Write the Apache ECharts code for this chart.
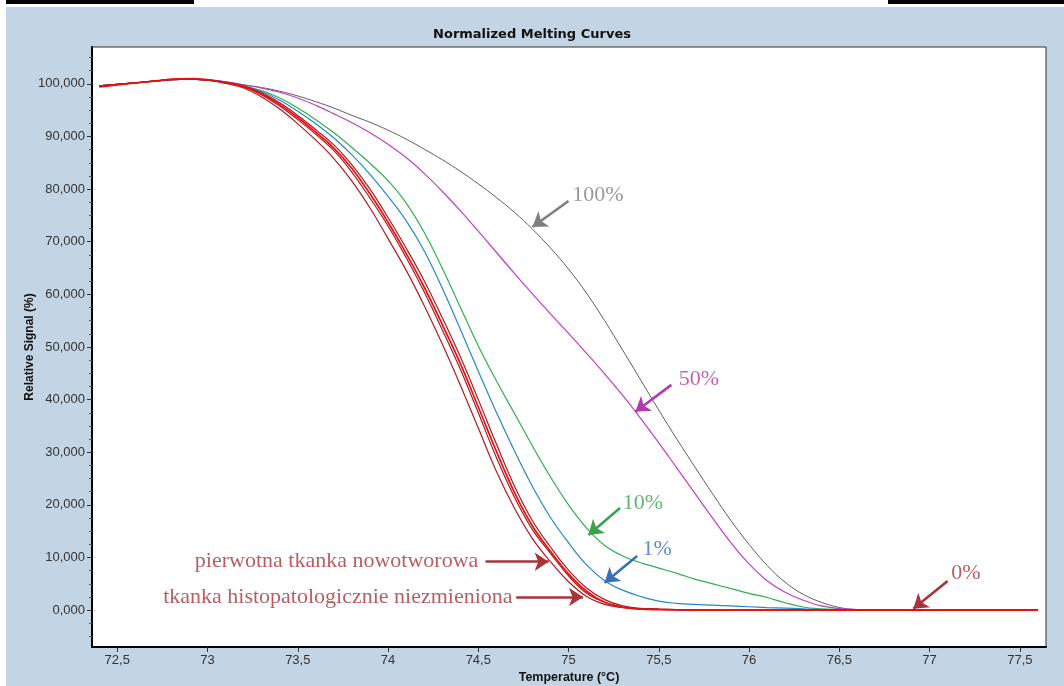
<!DOCTYPE html>
<html>
<head>
<meta charset="utf-8">
<script src="https://cdn.jsdelivr.net/npm/echarts@6/dist/echarts.min.js"></script>
<style>
  html, body { margin: 0; padding: 0; background: #fff; }
  #chart { width: 1064px; height: 686px; }
</style>
</head>
<body>
<div id="chart"></div>
<script>
// Temperature grid (°C)
const temperatures = [
  72.4, 72.5, 72.6, 72.7, 72.8, 72.9, 73.0, 73.1, 73.2, 73.3,
  73.4, 73.5, 73.6, 73.7, 73.8, 73.9, 74.0, 74.1, 74.2, 74.3,
  74.4, 74.5, 74.6, 74.7, 74.8, 74.9, 75.0, 75.1, 75.2, 75.3,
  75.4, 75.5, 75.6, 75.7, 75.8, 75.9, 76.0, 76.1, 76.2, 76.3,
  76.4, 76.5, 76.6, 76.7, 76.8, 76.9, 77.0, 77.1, 77.2, 77.3,
  77.4, 77.5, 77.6
];

// Normalized signal (%) for each sample
const signal100 = [
  99.6, 99.9, 100.2, 100.5, 100.8, 100.9, 100.7, 100.4, 99.8, 99.3,
  98.6, 97.7, 96.6, 95.4, 94.0, 92.7, 91.2, 89.5, 87.6, 85.6,
  83.4, 81.0, 78.4, 75.6, 72.4, 68.8, 64.8, 60.2, 55.0, 49.4,
  43.7, 38.0, 32.5, 27.2, 22.0, 17.0, 12.5, 8.5, 5.3, 3.0,
  1.5, 0.5, 0.1, 0, 0, 0, 0, 0, 0, 0,
  0, 0, 0
];
const signal50 = [
  99.6, 99.9, 100.2, 100.5, 100.8, 100.9, 100.7, 100.4, 99.8, 99.2,
  98.4, 97.3, 95.9, 94.3, 92.6, 90.7, 88.5, 86.0, 83.0, 79.6,
  75.9, 72.0, 68.0, 64.0, 60.1, 56.3, 52.6, 48.8, 44.9, 40.8,
  36.4, 31.8, 27.0, 22.2, 17.4, 12.8, 8.8, 5.6, 3.4, 1.9,
  0.8, 0.3, 0.1, 0, 0, 0, 0, 0, 0, 0,
  0, 0, 0
];
const signal10 = [
  99.6, 99.9, 100.2, 100.5, 100.8, 100.9, 100.7, 100.3, 99.6, 98.7,
  97.3, 95.4, 93.2, 90.7, 87.9, 84.9, 81.6, 77.4, 71.8, 65.0,
  57.6, 50.2, 43.6, 37.4, 31.2, 25.3, 20.0, 15.6, 12.3, 10.3,
  9.0, 8.0, 7.0, 5.9, 5.0, 4.1, 3.2, 2.4, 1.4, 0.6,
  0.25, 0.1, 0, 0, 0, 0, 0, 0, 0, 0,
  0, 0, 0
];
const signal1 = [
  99.6, 99.9, 100.2, 100.5, 100.8, 100.9, 100.7, 100.3, 99.5, 98.5,
  96.9, 94.8, 92.4, 89.7, 86.5, 82.8, 78.6, 74.0, 68.3, 61.2,
  53.4, 45.4, 37.6, 30.3, 23.5, 17.6, 12.8, 8.6, 5.6, 3.8,
  2.6, 1.7, 1.3, 1.1, 0.95, 0.8, 0.65, 0.5, 0.4, 0.25,
  0.1, 0.05, 0, 0, 0, 0, 0, 0, 0, 0,
  0, 0, 0
];
const signal0 = [
  99.6, 99.9, 100.2, 100.5, 100.8, 100.9, 100.7, 100.1, 99.2, 97.5,
  95.2, 92.4, 89.3, 85.8, 81.5, 76.4, 70.6, 64.6, 57.9, 50.6,
  42.8, 34.6, 26.4, 19.4, 13.6, 9.2, 5.4, 2.6, 1.1, 0.5,
  0.25, 0.15, 0.1, 0, 0, 0, 0, 0, 0, 0,
  0, 0, 0, 0, 0, 0, 0, 0, 0, 0,
  0, 0, 0
];
const signalTumor = [
  99.6, 99.9, 100.2, 100.5, 100.8, 100.9, 100.7, 100.2, 99.4, 97.9,
  95.8, 93.2, 90.4, 87.3, 83.2, 78.3, 73.0, 67.0, 60.5, 53.3,
  45.8, 37.5, 29.0, 21.5, 15.3, 10.8, 6.5, 3.2, 1.5, 0.6,
  0.3, 0.2, 0.1, 0, 0, 0, 0, 0, 0, 0,
  0, 0, 0, 0, 0, 0, 0, 0, 0, 0,
  0, 0, 0
];
const signalNormal = [
  99.4, 99.8, 100.2, 100.5, 100.9, 101.0, 100.8, 100.2, 99.5, 98.1,
  96.1, 93.6, 90.8, 87.8, 83.9, 79.1, 73.7, 67.8, 61.4, 54.3,
  46.9, 38.6, 30.2, 22.4, 16.0, 11.2, 6.9, 3.6, 1.5, 0.5,
  0.2, 0.1, 0.05, 0, 0, 0, 0, 0, 0, 0,
  0, 0, 0, 0, 0, 0, 0, 0, 0, 0,
  0, 0, 0
];
const signalTumor2 = [
  99.6, 99.9, 100.2, 100.5, 100.8, 100.9, 100.7, 100.3, 99.6, 98.3,
  96.4, 94.0, 91.3, 88.4, 84.6, 80.0, 74.6, 68.8, 62.6, 55.6,
  48.2, 40.0, 31.6, 23.6, 17.0, 12.0, 7.6, 4.2, 2.0, 0.8,
  0.35, 0.2, 0.1, 0, 0, 0, 0, 0, 0, 0,
  0, 0, 0, 0, 0, 0, 0, 0, 0, 0,
  0, 0, 0
];

// Axis ticks
const xTicks = [72.5, 73, 73.5, 74, 74.5, 75, 75.5, 76, 76.5, 77, 77.5];
const yTicks = [0, 10, 20, 30, 40, 50, 60, 70, 80, 90, 100];
const yMinorTicks = [-5, -2.5, 2.5, 5, 7.5, 12.5, 15, 17.5, 22.5, 25, 27.5,
  32.5, 35, 37.5, 42.5, 45, 47.5, 52.5, 55, 57.5, 62.5, 65, 67.5,
  72.5, 75, 77.5, 82.5, 85, 87.5, 92.5, 95, 97.5, 102.5, 105];

// Annotation texts with arrows (data coordinates)
const annotations = [
  { text: '100%', color: '#7f7f7f', at: [75.02, 78.9], side: 'right', from: [75.0, 77.75], to: [74.80, 72.8] },
  { text: '50%', color: '#b23bb0', at: [75.61, 43.9], side: 'right', from: [75.57, 42.8], to: [75.37, 37.7] },
  { text: '10%', color: '#3da24f', at: [75.30, 20.4], side: 'right', from: [75.285, 19.4], to: [75.11, 14.3] },
  { text: '1%', color: '#3b6fb6', at: [75.41, 11.6], side: 'right', from: [75.38, 10.3], to: [75.20, 5.2] },
  { text: '0%', color: '#a8343a', at: [77.12, 7.1], side: 'right', from: [77.10, 5.55], to: [76.91, 0.25] },
  { text: 'pierwotna tkanka nowotworowa', color: '#a8343a', at: [74.50, 9.35], side: 'left', from: [74.54, 9.2], to: [74.89, 9.2] },
  { text: 'tkanka histopatologicznie niezmieniona', color: '#a8343a', at: [74.69, 2.5], side: 'left', from: [74.71, 2.5], to: [75.08, 2.5] }
];

const pairs = arr => arr.map((v, i) => [temperatures[i], v]);
const sans = '"Liberation Sans", Arial, sans-serif';
const serif = '"Liberation Serif", "Times New Roman", serif';

function curve(name, values, color, width) {
  return {
    name, type: 'line', data: pairs(values),
    showSymbol: false, smooth: 0.4,
    lineStyle: { color, width }, itemStyle: { color },
    emphasis: { disabled: true }, silent: true, z: 3
  };
}

const chart = echarts.init(document.getElementById('chart'), null, { renderer: 'canvas' });
chart.setOption({
  animation: false,
  backgroundColor: '#ffffff',
  graphic: [
    { type: 'rect', z: -10, shape: { x: 6, y: 7, width: 1058, height: 679 }, style: { fill: '#c3d5e5' } },
    { type: 'rect', shape: { x: 6, y: 0, width: 188, height: 4 }, style: { fill: '#000' } },
    { type: 'rect', shape: { x: 888, y: 0, width: 176, height: 4 }, style: { fill: '#000' } }
  ],
  title: {
    text: 'Normalized Melting Curves',
    left: 'center', top: 23,
    textStyle: { fontFamily: '"DejaVu Sans", sans-serif', fontSize: 13, fontWeight: 'bold', color: '#111' }
  },
  grid: {
    left: 92, right: 18, top: 47, bottom: 39,
    outerBoundsMode: 'none', containLabel: false,
    show: true, backgroundColor: '#ffffff', borderColor: '#333', borderWidth: 1
  },
  xAxis: {
    type: 'value', min: 72.36, max: 77.645,
    name: 'Temperature (°C)', nameLocation: 'middle', nameGap: 24, nameMoveOverlap: false,
    nameTextStyle: { fontFamily: sans, fontSize: 12.5, fontWeight: 'bold', color: '#111' },
    axisLine: { show: true, onZero: false, lineStyle: { color: '#000', width: 2 } },
    axisTick: { show: true, length: 5, customValues: xTicks, lineStyle: { color: '#333' } },
    axisLabel: {
      customValues: xTicks, margin: 7, fontFamily: sans, fontSize: 13, color: '#333',
      formatter: v => String(v).replace('.', ',')
    },
    splitLine: { show: false }
  },
  yAxis: [
    {
      type: 'value', min: -7, max: 107,
      name: 'Relative Signal (%)', nameLocation: 'middle', nameGap: 56, nameMoveOverlap: false,
      nameTextStyle: { fontFamily: sans, fontSize: 12, fontWeight: 'bold', color: '#111' },
      axisLine: { show: true, onZero: false, lineStyle: { color: '#000', width: 2 } },
      axisTick: { show: true, length: 5, customValues: yTicks, lineStyle: { color: '#333' } },
      axisLabel: {
        customValues: yTicks, margin: 7, fontFamily: sans, fontSize: 13, color: '#333',
        formatter: v => v.toFixed(3).replace('.', ',')
      },
      splitLine: { show: false }
    },
    {
      type: 'value', min: -7, max: 107, position: 'left',
      axisLine: { show: false },
      axisTick: { show: true, length: 3, customValues: yMinorTicks, lineStyle: { color: '#555' } },
      axisLabel: { show: false },
      splitLine: { show: false }
    }
  ],
  series: [
    curve('100%', signal100, '#5e5e5e', 1),
    curve('50%', signal50, '#c23fc4', 1.2),
    curve('10%', signal10, '#2fb04f', 1.2),
    curve('1%', signal1, '#2488c8', 1.2),
    curve('0%', signal0, '#b3191c', 1.2),
    curve('pierwotna tkanka nowotworowa', signalTumor, '#b3191c', 1.2),
    curve('pierwotna tkanka nowotworowa 2', signalTumor2, '#b3191c', 1.2),
    curve('tkanka histopatologicznie niezmieniona', signalNormal, '#e81010', 1.7),
    {
      name: 'arrows', type: 'lines', coordinateSystem: 'cartesian2d', silent: true, z: 5,
      symbol: ['none', 'arrow'], symbolSize: [11, 14],
      data: annotations.map(a => ({ coords: [a.from, a.to], lineStyle: { color: a.color, width: 2.6, opacity: 1 } })),
      lineStyle: { width: 2.6, opacity: 1 }
    },
    {
      name: 'notes', type: 'scatter', symbolSize: 0, silent: true, z: 6,
      data: annotations.map(a => ({
        value: a.at,
        label: {
          show: true, formatter: a.text, position: a.side, distance: 0,
          color: a.color, fontFamily: serif, fontSize: 22
        }
      }))
    }
  ]
});
</script>
</body>
</html>
